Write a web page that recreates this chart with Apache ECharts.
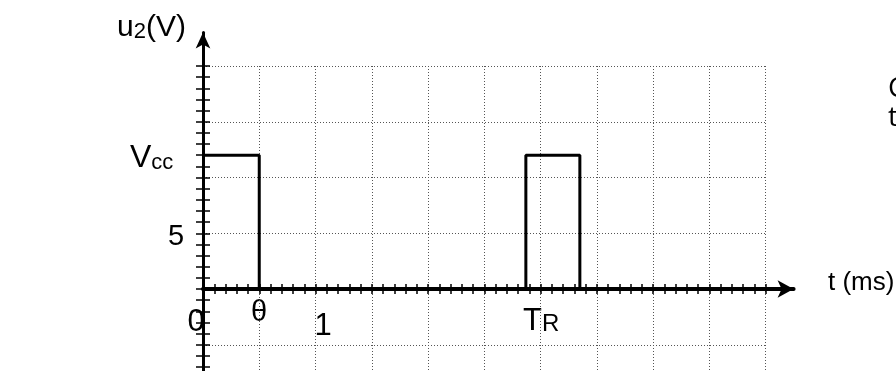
<!DOCTYPE html>
<html>
<head>
<meta charset="utf-8">
<script src="https://cdn.jsdelivr.net/npm/echarts@6/dist/echarts.min.js"></script>
<style>
html, body { margin: 0; padding: 0; background: #fff; }
#main { width: 896px; height: 371px; }
</style>
</head>
<body>
<div id="main"></div>
<script>
// time axis (ms) and voltage axis (V)
var tRange = [0, 5.25];      // axis with arrow
var tGrid = [0, 5];          // graph paper part
var tStep = 0.5;
var uRange = [-10, 23];
var uGrid = [-10, 20];
var uStep = 5;

// u2 waveform: one pulse at 0, the next near T_R
var pulseT = [0, 0.5, 0.5, 2.87, 2.87, 3.35, 3.35, 5];
var pulseU = [12, 12, 0, 0, 12, 12, 0, 0];

var font = '"Liberation Sans", Arial, sans-serif';

var wave = [];
for (var i = 0; i < pulseT.length; i++) {
	wave.push([pulseT[i], pulseU[i]]);
}

var chart = echarts.init(document.getElementById('main'), null, { renderer: 'canvas' });

// ticks cross the axis: one axis ticks out one side, a twin ticks the other side
function tickAxis(range, step, pos, len, split) {
	return {
		type: 'value',
		gridIndex: 1,
		min: range[0],
		max: range[1],
		interval: step,
		position: pos,
		axisLine: { show: true, onZero: true, lineStyle: { color: '#000', width: 2 } },
		axisTick: { show: true, length: len, lineStyle: { color: '#000', width: 1.5 } },
		minorTick: { show: true, splitNumber: 5, length: len, lineStyle: { color: '#000', width: 1.5 } },
		axisLabel: { show: false },
		splitLine: { show: split, lineStyle: { color: '#555', width: 1, type: [1, 2] } },
		minorSplitLine: { show: false }
	};
}

var option = {
	animation: false,
	backgroundColor: '#fff',
	grid: [
		{ left: 203, right: 102.4, top: 32.6, bottom: -29.5, outerBoundsMode: 'none' },
		{ left: 203, right: 130.5, top: 66, bottom: -29.5, outerBoundsMode: 'none' }
	],
	xAxis: [
		{
			type: 'value', gridIndex: 0, min: tRange[0], max: tRange[1],
			axisLine: { show: true, onZero: true, symbol: ['none', 'arrow'], symbolSize: [13, 16],
				lineStyle: { color: '#000', width: 4 } },
			axisTick: { show: false }, axisLabel: { show: false }, splitLine: { show: false }
		},
		tickAxis(tGrid, tStep, 'bottom', 5, true),
		tickAxis(tGrid, tStep, 'top', 5, false)
	],
	yAxis: [
		{
			type: 'value', gridIndex: 0, min: uRange[0], max: uRange[1],
			axisLine: { show: true, onZero: true, symbol: ['none', 'arrow'], symbolSize: [11, 16],
				lineStyle: { color: '#000', width: 3 } },
			axisTick: { show: false }, axisLabel: { show: false }, splitLine: { show: false }
		},
		tickAxis(uGrid, uStep, 'left', 7, true),
		tickAxis(uGrid, uStep, 'right', 7, false)
	],
	series: [{
		type: 'line',
		xAxisIndex: 0,
		yAxisIndex: 0,
		data: wave,
		symbol: 'none',
		z: 5,
		lineStyle: { color: '#000', width: 3 }
	}],
	graphic: [
		{ type: 'text', style: { x: 117, y: 28, verticalAlign: 'middle', text: 'u{s|2}(V)',
			font: '30px ' + font, fill: '#000',
			rich: { s: { fontSize: 22, fontFamily: font, lineHeight: 26, verticalAlign: 'bottom' } } } },
		{ type: 'text', style: { x: 130, y: 158, verticalAlign: 'middle', text: 'V{s|cc}',
			font: '32px ' + font, fill: '#000',
			rich: { s: { fontSize: 22, fontFamily: font, lineHeight: 20, verticalAlign: 'bottom' } } } },
		{ type: 'text', style: { x: 176, y: 237, align: 'center', verticalAlign: 'middle', text: '5',
			font: '29px ' + font, fill: '#000' } },
		{ type: 'text', style: { x: 196, y: 322, align: 'center', verticalAlign: 'middle', text: '0',
			font: '31px ' + font, fill: '#000' } },
		{ type: 'text', style: { x: 259, y: 313, align: 'center', verticalAlign: 'middle', text: 'θ',
			font: '29px ' + font, fill: '#000' } },
		{ type: 'text', style: { x: 323, y: 326, align: 'center', verticalAlign: 'middle', text: '1',
			font: '31px ' + font, fill: '#000' } },
		{ type: 'text', style: { x: 523, y: 321, verticalAlign: 'middle', text: 'T{s|R}',
			font: '31px ' + font, fill: '#000',
			rich: { s: { fontSize: 24, fontFamily: font, lineHeight: 14, verticalAlign: 'bottom' } } } },
		{ type: 'text', style: { x: 828, y: 283, verticalAlign: 'middle', text: 't (ms)',
			font: '26px ' + font, fill: '#000' } },
		{ type: 'text', style: { x: 888, y: 89, verticalAlign: 'middle', text: 'C',
			font: '28px "Open Sans", sans-serif', fill: '#000' } },
		{ type: 'text', style: { x: 888, y: 118, verticalAlign: 'middle', text: 't',
			font: '28px "Open Sans", sans-serif', fill: '#000' } }
	]
};

chart.setOption(option);
</script>
</body>
</html>
